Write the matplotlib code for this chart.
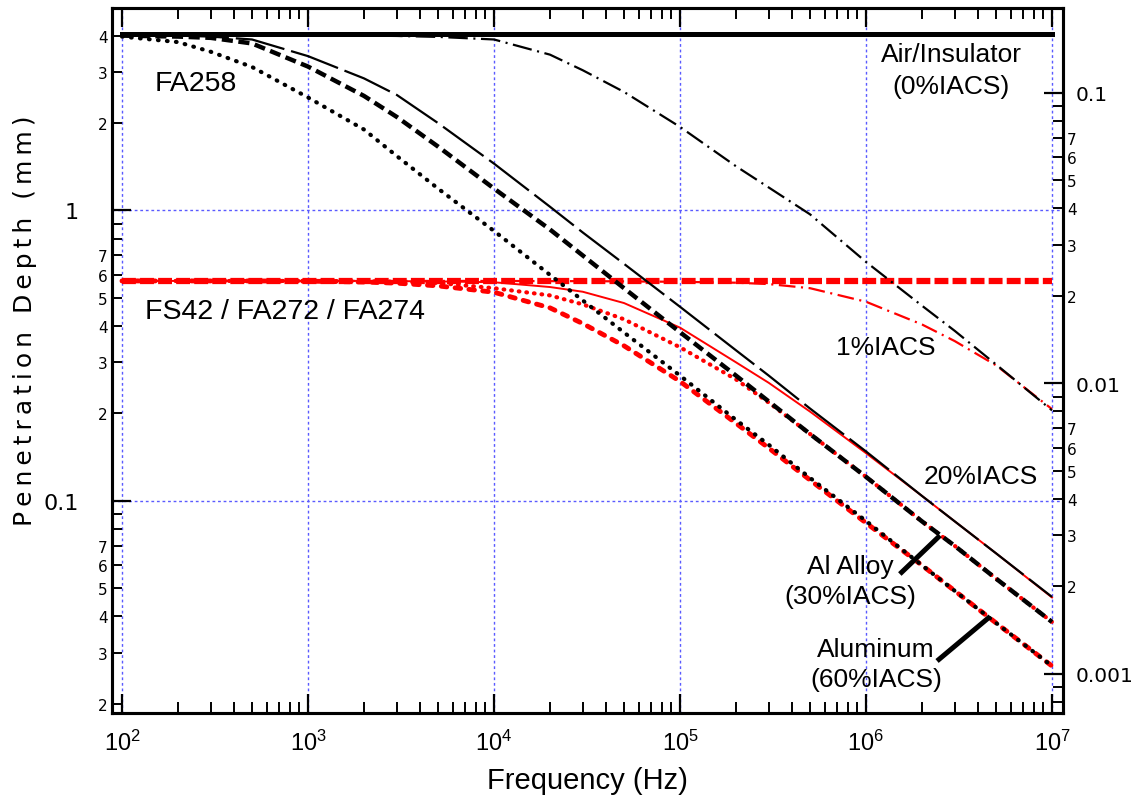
import matplotlib
matplotlib.use("Agg")
import matplotlib.pyplot as plt
from matplotlib.ticker import LogLocator, FuncFormatter, NullFormatter
import numpy as np

plt.rcParams['font.family'] = ['Liberation Sans', 'DejaVu Sans']
plt.rcParams['lines.scale_dashes'] = False
plt.rcParams['mathtext.fontset'] = 'custom'
plt.rcParams['mathtext.rm'] = 'Liberation Sans'
plt.rcParams['mathtext.default'] = 'regular'

# frequencias (Hz)
freq = [1e2, 2e2, 3e2, 5e2, 1e3, 2e3, 3e3, 5e3, 1e4, 2e4, 3e4, 5e4,
        1e5, 2e5, 3e5, 5e5, 1e6, 2e6, 3e6, 5e6, 1e7]

# sonda FA258 (mm)
fa258_air = [4.05, 4.05]
fa258_1 = [4.02, 4.02, 4.02, 4.02, 4.01, 4.00, 3.99, 3.96, 3.88, 3.44, 3.04, 2.56,
           1.94, 1.42, 1.20, 0.97, 0.665, 0.47, 0.385, 0.295, 0.205]
fa258_20 = [4.02, 4.00, 3.97, 3.88, 3.40, 2.85, 2.50, 2.00, 1.45, 1.03, 0.84, 0.655,
            0.466, 0.33, 0.27, 0.208, 0.148, 0.104, 0.085, 0.066, 0.0467]
fa258_30 = [4.00, 3.97, 3.93, 3.76, 3.13, 2.48, 2.10, 1.66, 1.19, 0.86, 0.70, 0.54,
            0.381, 0.27, 0.22, 0.17, 0.121, 0.085, 0.070, 0.054, 0.0383]
fa258_60 = [3.97, 3.80, 3.52, 3.12, 2.45, 1.90, 1.54, 1.19, 0.85, 0.60, 0.49, 0.38,
            0.27, 0.19, 0.156, 0.12, 0.0853, 0.060, 0.049, 0.038, 0.027]

# sondas FS42 / FA272 / FA274 (mm)
fs_air = [0.572, 0.572]
fs_1 = [0.572, 0.572, 0.572, 0.572, 0.572, 0.572, 0.572, 0.572, 0.572, 0.571, 0.571, 0.570,
        0.568, 0.564, 0.558, 0.540, 0.485, 0.405, 0.355, 0.293, 0.207]
fs_20 = [0.572, 0.572, 0.572, 0.572, 0.572, 0.572, 0.571, 0.570, 0.566, 0.545, 0.525, 0.48,
         0.395, 0.30, 0.255, 0.203, 0.146, 0.104, 0.085, 0.066, 0.0465]
fs_30 = [0.572, 0.572, 0.572, 0.572, 0.572, 0.571, 0.569, 0.563, 0.54, 0.51, 0.475, 0.422,
         0.338, 0.262, 0.218, 0.17, 0.121, 0.085, 0.070, 0.054, 0.0383]
fs_60 = [0.572, 0.572, 0.572, 0.572, 0.571, 0.567, 0.562, 0.55, 0.523, 0.462, 0.408, 0.342,
         0.258, 0.185, 0.152, 0.118, 0.084, 0.060, 0.049, 0.038, 0.027]

air_freq = [freq[0], freq[-1]]
MM_PER_IN = 25.4
YMIN, YMAX = 0.0186, 4.98

fig = plt.figure(figsize=(11.34, 8.03), dpi=100)
ax = fig.add_axes([0.0988, 0.1108, 0.8386, 0.8780])
ax.set_xscale('log')
ax.set_yscale('log')
ax.set_xlim(88.4, 1.146e7)
ax.set_ylim(YMIN, YMAX)

# grade azul pontilhada
for xv in [1e2, 1e3, 1e4, 1e5, 1e6, 1e7]:
    ax.axvline(xv, color='#5a5aff', lw=1, ls=(0, (2, 2)), zorder=1)
for yv in [1, 0.1]:
    ax.axhline(yv, color='#5a5aff', lw=1, ls=(0, (2, 2)), zorder=1)

red = '#ff0000'
# curvas FS42 / FA272 / FA274
ax.plot(air_freq, fs_air, color=red, lw=4.5, ls=(0, (10, 3)), zorder=2)
ax.plot(freq, fs_1, color=red, lw=1.6, ls=(0, (12, 4, 1.5, 4)), zorder=2)
ax.plot(freq, fs_20, color=red, lw=1.4, zorder=2)
ax.plot(freq, fs_30, color=red, lw=3.0, ls=(0, (0.5, 5)), dash_capstyle='round', zorder=2)
ax.plot(freq, fs_60, color=red, lw=3.5, ls=(0, (4, 6)), dash_capstyle='round', zorder=2)

# curvas FA258
ax.plot(air_freq, fa258_air, color='black', lw=3.6, zorder=3)
ax.plot(freq, fa258_1, color='black', lw=1.6, ls=(0, (14, 4, 1.5, 4)), zorder=3)
ax.plot(freq, fa258_20, color='black', lw=1.6, ls=(0, (36, 5)), zorder=3)
ax.plot(freq, fa258_30, color='black', lw=3.2, ls=(0, (8, 4)), zorder=3)
ax.plot(freq, fa258_60, color='black', lw=3.0, ls=(0, (0.5, 6)), dash_capstyle='round', zorder=3)

# textos
ax.text(150, 2.74, 'FA258', fontsize=20.5, ha='left', va='center')
ax.text(133, 0.449, 'FS42 / FA272 / FA274', fontsize=20.5, ha='left', va='center')
ax.text(2.87e6, 3.05, 'Air/Insulator\n(0%IACS)', fontsize=19, ha='center', va='center',
        linespacing=1.4)
ax.text(1.27e6, 0.34, '1%IACS', fontsize=19, ha='center', va='center')
ax.text(4.15e6, 0.122, '20%IACS', fontsize=19, ha='center', va='center')
ax.text(8.2e5, 0.053, 'Al Alloy\n(30%IACS)', fontsize=19, ha='center', va='center',
        linespacing=1.35)
ax.text(1.13e6, 0.0274, 'Aluminum\n(60%IACS)', fontsize=19, ha='center', va='center',
        linespacing=1.35)
ax.plot([1.52e6, 2.5e6], [0.056, 0.076], color='black', lw=3.6, solid_capstyle='butt', zorder=4)
ax.plot([2.41e6, 4.65e6], [0.0281, 0.040], color='black', lw=3.6, solid_capstyle='butt', zorder=4)

# eixos e ticks
for s in ax.spines.values():
    s.set_linewidth(2.2)

def minor_digit(v, pos):
    d = int(round(v / 10 ** np.floor(np.log10(v) + 1e-9)))
    return str(d) if 2 <= d <= 7 else ''

def major_label(v, pos):
    return ('%g' % v)

ax.xaxis.set_major_locator(LogLocator(base=10, numticks=20))
ax.xaxis.set_minor_locator(LogLocator(base=10, subs=np.arange(2, 10), numticks=20))
ax.xaxis.set_major_formatter(FuncFormatter(lambda v, p: r'$10^{%d}$' % round(np.log10(v))))
ax.xaxis.set_minor_formatter(NullFormatter())
ax.tick_params(axis='x', which='major', direction='in', length=14, width=1.6,
               top=True, labelsize=17, pad=12)
ax.tick_params(axis='x', which='minor', direction='in', length=8, width=1.4, top=True)

ax.yaxis.set_major_locator(LogLocator(base=10, numticks=20))
ax.yaxis.set_minor_locator(LogLocator(base=10, subs=np.arange(2, 10), numticks=20))
ax.yaxis.set_major_formatter(FuncFormatter(major_label))
ax.yaxis.set_minor_formatter(FuncFormatter(minor_digit))
ax.tick_params(axis='y', which='major', direction='in', length=14, width=1.6,
               right=False, labelsize=16, pad=24)
ax.tick_params(axis='y', which='minor', direction='in', length=7, width=1.4,
               right=False, labelsize=11, pad=3)
for lab in ax.get_yticklabels(which='both'):
    lab.set_family('DejaVu Sans')

# eixo direito em polegadas
ax2 = ax.twinx()
ax2.set_yscale('log')
ax2.set_ylim(YMIN / MM_PER_IN, YMAX / MM_PER_IN)
ax2.yaxis.set_major_locator(LogLocator(base=10, numticks=20))
ax2.yaxis.set_minor_locator(LogLocator(base=10, subs=np.arange(2, 10), numticks=20))
ax2.yaxis.set_major_formatter(FuncFormatter(major_label))
ax2.yaxis.set_minor_formatter(FuncFormatter(minor_digit))
ax2.tick_params(axis='y', which='major', direction='in', length=14, width=1.6,
                labelsize=14.5, pad=9)
ax2.tick_params(axis='y', which='minor', direction='in', length=7, width=1.4,
                labelsize=11, pad=3)
for lab in ax2.get_yticklabels(which='both'):
    lab.set_family('DejaVu Sans')
for s in ax2.spines.values():
    s.set_linewidth(2.2)

ax.set_xlabel('Frequency (Hz)', fontsize=21, labelpad=8)
fig.text(0.022, 0.60, '\u2009'.join('Penetration Depth (mm)'), rotation=90,
         fontsize=18, family='DejaVu Sans', ha='center', va='center')

plt.savefig('out.png', dpi=100)
